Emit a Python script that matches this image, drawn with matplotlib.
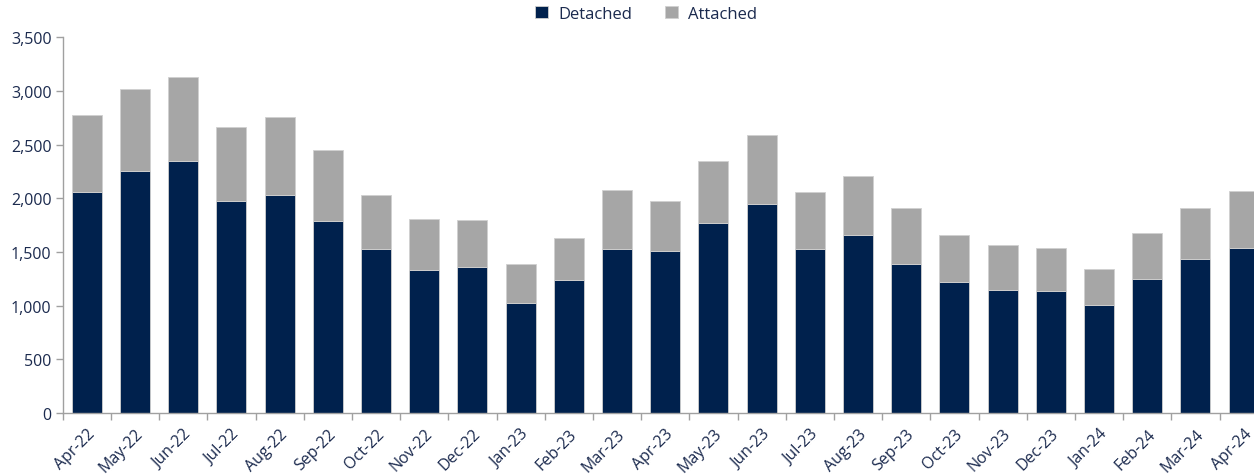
import matplotlib.pyplot as plt
import numpy as np

months = ["Apr-22", "May-22", "Jun-22", "Jul-22", "Aug-22", "Sep-22", "Oct-22",
          "Nov-22", "Dec-22", "Jan-23", "Feb-23", "Mar-23", "Apr-23", "May-23",
          "Jun-23", "Jul-23", "Aug-23", "Sep-23", "Oct-23", "Nov-23", "Dec-23",
          "Jan-24", "Feb-24", "Mar-24", "Apr-24"]
detached = [2062, 2254, 2345, 1972, 2031, 1792, 1525, 1335, 1363, 1025, 1242,
            1531, 1509, 1770, 1944, 1531, 1658, 1388, 1217, 1149, 1140, 1006,
            1248, 1432, 1540]
total = [2779, 3015, 3133, 2661, 2761, 2453, 2031, 1810, 1798, 1385, 1627,
         2077, 1972, 2345, 2587, 2059, 2211, 1913, 1658, 1565, 1540, 1338,
         1674, 1907, 2065]
attached = [t - d for t, d in zip(total, detached)]

NAVY = "#00214d"
GREY = "#a6a6a6"
TEXT = "#1b2a4e"
AXIS = "#a0a0a0"

plt.rcParams["font.family"] = ["Open Sans", "DejaVu Sans"]

W, H = 1254, 477
fig = plt.figure(figsize=(W / 100, H / 100), dpi=100)
left, right, top, bottom = 62.7, 1267.7, 38.3, 414
ax = fig.add_axes([left / W, 1 - bottom / H, (right - left) / W, (bottom - top) / H])

x = np.arange(len(months))
ax.bar(x, detached, width=0.62, color=NAVY, edgecolor="#d0d0d0", linewidth=0.6,
       label="Detached")
ax.bar(x, attached, bottom=detached, width=0.62, color=GREY, edgecolor="#d0d0d0",
       linewidth=0.6, label="Attached")

ax.set_xlim(-0.5, len(months) - 0.5)
ax.set_ylim(0, 3500)
ax.set_yticks(np.arange(0, 3501, 500))
ax.set_yticklabels([f"{v:,}" for v in range(0, 3501, 500)])

ax.set_xticks(x)
ax.set_xticklabels(months, rotation=45, ha="right", va="top", rotation_mode="anchor")
ax.set_xticks(np.arange(-0.5, len(months), 1), minor=True)
ax.tick_params(axis="x", which="major", length=0, pad=9, labelsize=11.5, labelcolor=TEXT)
ax.tick_params(axis="x", which="minor", length=5, color=AXIS, width=1)
ax.tick_params(axis="y", length=5, color=AXIS, width=1, labelsize=11.5, labelcolor=TEXT,
               pad=3)

for s in ["top", "right"]:
    ax.spines[s].set_visible(False)
for s in ["left", "bottom"]:
    ax.spines[s].set_color(AXIS)
    ax.spines[s].set_linewidth(1)

fig.legend(loc="upper center", bbox_to_anchor=(646 / W, 1.0), ncol=2, frameon=False,
           fontsize=12, labelcolor=TEXT, handlelength=0.8, handleheight=0.8,
           columnspacing=2.0, handletextpad=0.6, borderaxespad=0.0)

fig.savefig("out.png", dpi=100)
